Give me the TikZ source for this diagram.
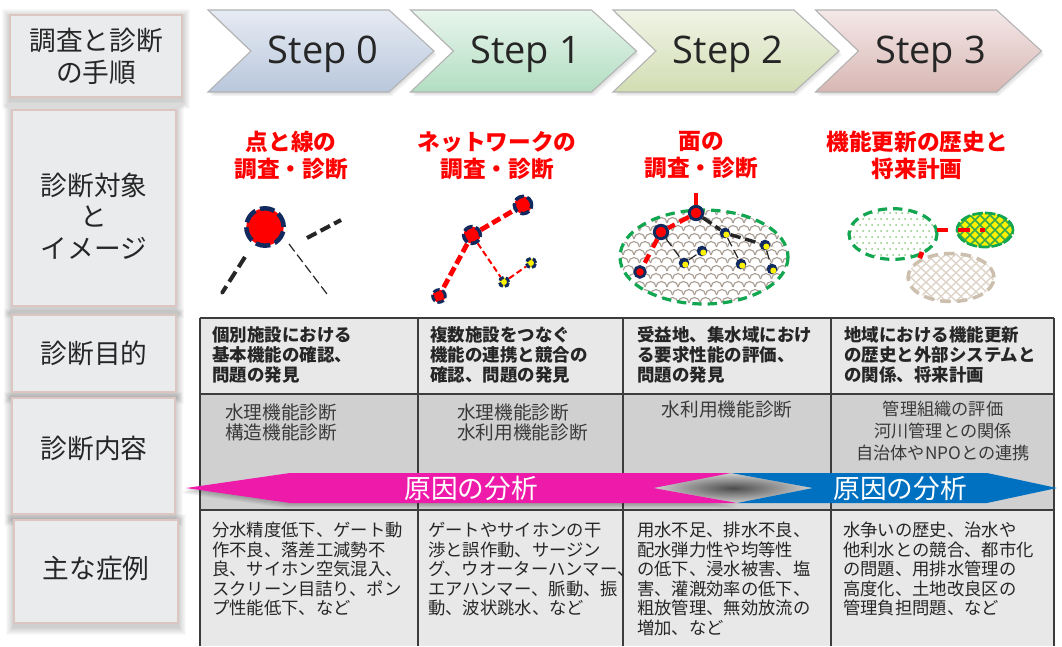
\documentclass[tikz,border=0pt]{standalone}
\usepackage{fontspec}
\setmainfont{Open Sans}
\newfontfamily\jp{Noto Sans CJK JP}
\usetikzlibrary{calc,shapes.geometric}

\definecolor{ink}{HTML}{262626}
\definecolor{softink}{HTML}{3A3A3A}
\definecolor{hdrfill}{HTML}{E9EBEC}
\definecolor{hdredge}{HTML}{DCC6C2}
\definecolor{navy}{HTML}{102A60}
\definecolor{netgreen}{HTML}{12A650}
\definecolor{pinkarrow}{HTML}{EE1AAA}
\definecolor{bluearrow}{HTML}{0070C0}
\definecolor{rowlight}{HTML}{E8E8E8}
\definecolor{rowdark}{HTML}{D0D0D0}
\definecolor{gridline}{HTML}{3C3C3C}
\definecolor{mesh}{HTML}{A99E94}
\definecolor{beige}{HTML}{CDBFAE}
\definecolor{beigemesh}{HTML}{DDD3C7}
\definecolor{dotgreen}{HTML}{8CCB7E}
\definecolor{hatchgreen}{HTML}{3DAA4A}
\definecolor{s0a}{HTML}{E6EBF3}\definecolor{s0b}{HTML}{B9C7DC}
\definecolor{s1a}{HTML}{E8F5EC}\definecolor{s1b}{HTML}{B2DEC2}
\definecolor{s2a}{HTML}{F0F4E6}\definecolor{s2b}{HTML}{D2DDB2}
\definecolor{s3a}{HTML}{F4E8E8}\definecolor{s3b}{HTML}{D8B7B3}

\tikzset{
  hdrbox/.style={draw=hdredge, line width=1pt, fill=hdrfill, inner sep=0pt},
  hdrtext/.style={font=\jp\fontsize{20pt}{24pt}\selectfont, text=ink, align=center, inner sep=0pt},
  steptext/.style={font=\fontsize{28.5pt}{30pt}\selectfont, text=ink, inner sep=0pt},
  titletext/.style={font=\jp\bfseries\fontsize{17pt}{20.25pt}\selectfont, text=red, align=center, inner sep=0pt},
  purposetext/.style={font=\jp\bfseries\fontsize{13.1pt}{15pt}\selectfont, text=ink, align=left, anchor=north west, inner sep=0pt},
  contenttext/.style={font=\jp\fontsize{14pt}{15pt}\selectfont, text=softink, align=left, anchor=north west, inner sep=0pt},
  casetext/.style={font=\jp\fontsize{13pt}{14.6pt}\selectfont, text=ink, align=left, anchor=north west, inner sep=0pt},
  arrowtext/.style={font=\jp\fontsize{20pt}{22pt}\selectfont, text=white, inner sep=0pt},
  reddot/.style={circle, inner sep=0pt, fill=red, draw=navy},
  yeldot/.style={circle, inner sep=0pt, fill=yellow, draw=navy},
  netdot/.style={circle, inner sep=0pt, fill=navy, minimum size=8pt,
    path picture={\fill[yellow] ([xshift=1pt,yshift=-1.2pt]path picture bounding box.center) circle (2.3pt);}},
  thickred/.style={red, line width=3.6pt, dash pattern=on 7pt off 3pt},
  thinred/.style={red, line width=1.5pt, dash pattern=on 4.5pt off 2.5pt},
  darkdash/.style={ink, line width=3pt, dash pattern=on 8pt off 3.5pt},
  thindash/.style={ink, line width=0.9pt, dash pattern=on 7pt off 3pt},
  greenrim/.style={draw=netgreen, line width=2.4pt, dash pattern=on 7pt off 4.5pt},
}

\newcommand\softshade[4]{%
  \foreach \s in {1,...,8}{\fill[black,opacity=0.025] (#1-\s,#2-\s+2) rectangle (#3+\s,#4+\s+4);}}

\begin{document}
\begin{tikzpicture}[x=0.75pt,y=-0.75pt]
\useasboundingbox (0,0) rectangle (1062,646);
\fill[white] (0,0) rectangle (1062,646);

% ---------- row headers on the left ----------
\softshade{10}{15}{182}{97}
\softshade{12}{110}{176}{306}
\softshade{12}{315}{176}{392}
\softshade{12}{398}{175}{514}
\softshade{14}{520}{178}{623}
\node[hdrbox, minimum width=129pt, minimum height=61.5pt] (b1) at (96,56) {};
\node[hdrbox, minimum width=123pt, minimum height=147pt] (b2) at (94,208) {};
\node[hdrbox, minimum width=123pt, minimum height=57.75pt] (b3) at (94,353.5) {};
\node[hdrbox, minimum width=122.25pt, minimum height=87pt] (b4) at (93.5,456) {};
\node[hdrbox, minimum width=123pt, minimum height=77.25pt] (b5) at (96,571.5) {};
\node[hdrtext] (t1) at (96,56) {調査と診断\\の手順};
\node[hdrtext, font=\jp\fontsize{20pt}{23.5pt}\selectfont] (t2) at (94,216) {診断対象\\と\\イメージ};
\node[hdrtext] (t3) at (94,353) {診断目的};
\node[hdrtext] (t4) at (94,448) {診断内容};
\node[hdrtext] (t5) at (96,568) {主な症例};

% ---------- step chevrons ----------
\foreach \i/\ca/\cb in {0/s0a/s0b,1/s1a/s1b,2/s2a/s2b,3/s3a/s3b}{
  \pgfmathsetmacro\L{208+202.5*\i}
  \foreach \s in {1,2,3}{\fill[black,opacity=0.04] (\L+\s,10+\s+1) -- (\L+181+\s,10+\s+1) -- (\L+226+\s,51+\s+1) -- (\L+181+\s,92+\s+1) -- (\L+\s,92+\s+1) -- (\L+43+\s,51+\s+1) -- cycle;}
  \shadedraw[top color=\ca, bottom color=\cb, draw=gray!60, line width=0.8pt]
    (\L,10) -- (\L+181,10) -- (\L+226,51) -- (\L+181,92) -- (\L,92) -- (\L+43,51) -- cycle;
  \node[steptext] (step\i) at (\L+115,54) {Step \i};
}

% ---------- red titles ----------
\node[titletext] (ti0) at (291,155.5) {点と線の\\調査・診断};
\node[titletext] (ti1) at (497,155.5) {ネットワークの\\調査・診断};
\node[titletext] (ti2) at (701,155.5) {面の\\調査・診断};
\node[titletext] (ti3) at (917,155.5) {機能更新の歴史と\\将来計画};

% ---------- image 0: a single point and lines ----------
\node[reddot, minimum size=28pt, line width=3.4pt, dash pattern=on 11pt off 3.7pt] (p0) at (265,227) {};
\coordinate (l0a) at (245,257); \coordinate (l0b) at (222,293);
\coordinate (l1a) at (289,244); \coordinate (l1b) at (327,294);
\coordinate (l2a) at (307,238); \coordinate (l2b) at (341,220);
\draw[ink, line width=3pt, dash pattern=on 9pt off 4pt] (l0a) -- (l0b);
\fill[ink] (l0b) circle (1.3pt);
\draw[thindash] (l1a) -- (l1b);
\draw[ink, line width=3pt, dash pattern=on 8pt off 3.5pt] (l2a) -- (l2b);

% ---------- image 1: network ----------
\node[reddot, minimum size=12.6pt, line width=2.6pt, dash pattern=on 7pt off 2.5pt] (nA) at (472,235) {};
\node[reddot, minimum size=13pt, line width=2.6pt, dash pattern=on 7pt off 2.5pt] (nB) at (523,205) {};
\node[reddot, minimum size=9.5pt, line width=2.2pt, dash pattern=on 5pt off 2pt] (nC) at (439,296) {};
\node[yeldot, minimum size=7pt, line width=2.2pt, dash pattern=on 4pt off 1.6pt] (nD) at (504,282) {};
\node[yeldot, minimum size=7pt, line width=2.2pt, dash pattern=on 4pt off 1.6pt] (nE) at (531,263) {};
\draw[thickred] (nA) -- (nB);
\draw[thickred] (nA) -- (nC);
\draw[thinred] (nA) -- (nD);
\draw[thinred] (nD) -- (nE);

% ---------- image 2: area (path picture origin is the node centre) ----------
\node[ellipse, minimum width=126pt, minimum height=70.5pt, inner sep=0pt, fill=white,
  path picture={
    \foreach \r in {0,...,13}{
      \foreach \c in {0,...,17}{
        \pgfmathsetmacro\xx{-92+\c*11+mod(\r,2)*5.5}
        \pgfmathsetmacro\yy{-50+\r*8}
        \draw[mesh, line width=0.85pt] (\xx,\yy) arc[start angle=180, end angle=360, x radius=5.5, y radius=5.5];
      }}
  }] (area) at (704,257) {};
\draw[greenrim] (area.center) ellipse [x radius=84, y radius=47];
\coordinate (stem) at (696,193);
\node[netdot] (y1) at (725,233) {};
\node[netdot] (y2) at (765,245) {};
\node[netdot] (y3) at (702,251) {};
\node[netdot] (y4) at (684,263) {};
\node[netdot] (y5) at (741,264) {};
\node[netdot] (y6) at (772,269) {};
\node[reddot, minimum size=10pt, line width=2.2pt] (r1) at (696,213) {};
\node[reddot, minimum size=10pt, line width=2.2pt] (r2) at (661,232) {};
\node[reddot, minimum size=8pt, line width=2pt] (r3) at (640,272) {};
\draw[red, line width=3.3pt] (stem) -- (r1);
\draw[red, line width=3.3pt, dash pattern=on 8pt off 4pt] (r1) -- (r2);
\draw[red, line width=3.3pt, dash pattern=on 7pt off 6pt] (r2) -- (r3);
\draw[darkdash, line width=2.6pt] (r1) -- (y1);
\draw[darkdash, line width=2.6pt] (y1) -- (y2);
\draw[thindash] (r2) -- (y4);
\draw[thindash] (y1) -- (y5);
\draw[thindash] (y4) -- (y3);
\draw[thindash] (y2) -- (y6);

% ---------- image 3: history and plan ----------
\node[ellipse, minimum width=66pt, minimum height=38pt, inner sep=0pt, fill=white, greenrim,
  path picture={
    \foreach \r in {0,...,9}{
      \foreach \c in {0,...,16}{
        \pgfmathsetmacro\xx{-48+\c*6+mod(\r,2)*3}
        \pgfmathsetmacro\yy{-27+\r*6}
        \fill[dotgreen] (\xx,\yy) circle (0.75pt);
      }}
  }] (hist) at (893,234) {};
\node[ellipse, minimum width=42pt, minimum height=25.5pt, inner sep=0pt, fill=yellow,
  draw=netgreen, line width=2pt, dash pattern=on 8pt off 1.5pt,
  path picture={
    \foreach \k in {-80,-70,...,80}{
      \draw[hatchgreen, line width=1.1pt, solid] (\k-30,-30) -- (\k+30,30);
      \draw[hatchgreen, line width=1.1pt, solid] (\k+30,-30) -- (\k-30,30);
    }
  }] (plan) at (985,230) {};
\node[ellipse, minimum width=64.5pt, minimum height=36pt, inner sep=0pt, fill=white,
  draw=beige, line width=2.6pt, dash pattern=on 8pt off 4.5pt,
  path picture={
    \foreach \k in {-100,-90,...,100}{
      \draw[beigemesh, line width=1pt, solid] (\k-35,-33) -- (\k+35,33);
      \draw[beigemesh, line width=1pt, solid] (\k+35,-33) -- (\k-35,33);
    }
  }] (land) at (951,277.5) {};
\coordinate (he) at (937,230);
\coordinate (hs) at (922,252);
\draw[red, line width=3.6pt, dash pattern=on 8.5pt off 7.5pt] (he) -- (plan.center);
\draw[red, line width=3.6pt, dash pattern=on 5pt off 7.5pt on 8pt off 20pt] (hs) -- (land.north west);

% ---------- table ----------
\fill[rowlight] (200,318) rectangle (1054,394);
\fill[rowdark] (200,394) rectangle (1054,510);
\fill[rowlight] (200,510) rectangle (1054,646);
\foreach \xx in {200,418,623,831,1054}{\draw[gridline, line width=1.1pt] (\xx,318) -- (\xx,646);}
\foreach \yy in {318,394,510}{\draw[gridline, line width=1.1pt] (200,\yy) -- (1054,\yy);}

% ---------- cause-analysis band ----------
\foreach \s in {1,...,5}{
  \fill[black, opacity=0.05] (186-\s,488+\s) -- (290-\s,473+\s) -- (731,473+\s) -- (653,488+\s) -- (737,503+\s) -- (290-\s,503+\s) -- cycle;}
\shade[inner color=black!70, outer color=rowdark] (653,488) -- (731,473) -- (813,488) -- (737,503) -- cycle;
\fill[pinkarrow] (186,488) -- (290,473) -- (731,473) -- (653,488) -- (737,503) -- (290,503) -- cycle;
\fill[bluearrow] (731,473) -- (987,473) -- (1057,488) -- (987,503) -- (737,503) -- (813,488) -- cycle;
\node[arrowtext] (cause1) at (471,488) {原因の分析};
\node[arrowtext] (cause2) at (900,488) {原因の分析};

% ---------- purpose row ----------
\node[purposetext] (pu0) at (212,326) {個別施設における\\基本機能の確認、\\問題の発見};
\node[purposetext] (pu1) at (430,326) {複数施設をつなぐ\\機能の連携と競合の\\確認、問題の発見};
\node[purposetext] (pu2) at (637,326) {受益地、集水域におけ\\る要求性能の評価、\\問題の発見};
\node[purposetext] (pu3) at (844,326) {地域における機能更新\\の歴史と外部システムと\\の関係、将来計画};

% ---------- content row ----------
\node[contenttext] (co0) at (225,404) {水理機能診断\\構造機能診断};
\node[contenttext] (co1) at (457,404) {水理機能診断\\水利用機能診断};
\node[contenttext, anchor=north, align=center] (co2) at (727,401) {水利用機能診断};
\node[contenttext, anchor=north, align=center, font=\jp\fontsize{12.9pt}{16.5pt}\selectfont] (co3) at (943,401) {管理組織の評価\\河川管理との関係\\自治体やNPOとの連携};

% ---------- symptom row ----------
\node[casetext] (ca0) at (212,522) {分水精度低下、ゲート動\\作不良、落差工減勢不\\良、サイホン空気混入、\\スクリーン目詰り、ポン\\プ性能低下、など};
\node[casetext] (ca1) at (428,522) {ゲートやサイホンの干\\渉と誤作動、サージン\\グ、ウオーターハンマー、\\エアハンマー、脈動、振\\動、波状跳水、など};
\node[casetext] (ca2) at (637,522) {用水不足、排水不良、\\配水弾力性や均等性\\の低下、浸水被害、塩\\害、灌漑効率の低下、\\粗放管理、無効放流の\\増加、など};
\node[casetext] (ca3) at (843,522) {水争いの歴史、治水や\\他利水との競合、都市化\\の問題、用排水管理の\\高度化、土地改良区の\\管理負担問題、など};
\end{tikzpicture}
\end{document}
